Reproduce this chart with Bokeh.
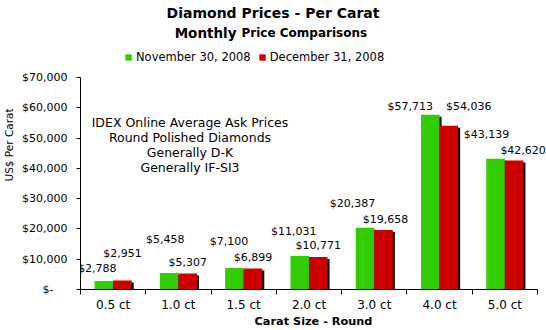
from bokeh.plotting import figure
from bokeh.models import (Range1d, FixedTicker, NumeralTickFormatter, ColumnDataSource,
                          LabelSet, Label, Legend, LegendItem)
from bokeh.core.properties import value
from bokeh.embed import file_html
from bokeh.resources import INLINE

# ---------------- data ----------------
categories = ["0.5 ct", "1.0 ct", "1.5 ct", "2.0 ct", "3.0 ct", "4.0 ct", "5.0 ct"]
nov_2008 = [2788, 5458, 7100, 11031, 20387, 57713, 43139]
dec_2008 = [2951, 5307, 6899, 10771, 19658, 54036, 42620]
series_names = ["November 30, 2008", "December 31, 2008"]
y_ticks = [0, 10000, 20000, 30000, 40000, 50000, 60000, 70000]
note_lines = ["IDEX Online Average Ask Prices", "Round Polished Diamonds",
              "Generally D-K", "Generally IF-SI3"]

# ---------------- layout / style ----------------
W, H = 546, 330
FL, FR, FT, FB = 80, 537, 77, 289   # visible plot box (axes extent) in canvas pixels
Y_MAX = 70000
X_MAX = len(categories)
GREEN, RED = "#33CC00", "#CC0000"
FONT = "DejaVu Sans"
BAR_W = 0.285
DODGE = 0.142

# label offsets in screen pixels (dx right, dy up), to avoid collisions as in the original
g_dx = [-6.5, -4, -5.5, -6, -12.5, -20, -9]
g_dy = [13, 33, 26, 24.5, 24, 8, 24]
r_dx = [0, 0, 0, 0, 2, 20, 9]
r_dy = [27, 11, 11, 11, 10, 19, 10]

PX_X = X_MAX / (FR - FL)
PX_Y = Y_MAX / (FB - FT)


def px_y(y_screen):
    return (FB - y_screen) * PX_Y


def px_x(x_screen):
    return (x_screen - FL) * PX_X


centers = [i + 0.5 for i in range(len(categories))]
src = ColumnDataSource(dict(
    xg=[c - DODGE for c in centers],
    xr=[c + DODGE for c in centers],
    xgs=[c - DODGE + 2 * PX_X for c in centers],
    xrs=[c + DODGE + 2 * PX_X for c in centers],
    nov=nov_2008, dec=dec_2008,
    novs=[v - 2 * PX_Y for v in nov_2008],
    decs=[v - 2 * PX_Y for v in dec_2008],
    nov_txt=["${:,}".format(v) for v in nov_2008],
    dec_txt=["${:,}".format(v) for v in dec_2008],
    g_dx=g_dx, g_dy=g_dy, r_dx=r_dx, r_dy=r_dy,
))

# the frame reaches the top and right canvas edges so that titles/legend are not clipped;
# axes are bounded to the real data extent
p = figure(width=W, height=H, title=None,
           x_range=Range1d(0, X_MAX + (W - FR) * PX_X),
           y_range=Range1d(0, Y_MAX + FT * PX_Y),
           output_backend="svg", toolbar_location=None,
           min_border_left=FL, min_border_right=0, min_border_top=0,
           min_border_bottom=H - FB)
p.outline_line_color = None
p.xgrid.visible = False
p.ygrid.visible = False
p.background_fill_color = "white"
p.border_fill_color = "white"

# shadows
p.vbar(x="xgs", top="novs", width=BAR_W, source=src, fill_color="black", line_color=None)
p.vbar(x="xrs", top="decs", width=BAR_W, source=src, fill_color="black", line_color=None)
# bars
rg = p.vbar(x="xg", top="nov", width=BAR_W, source=src, fill_color=GREEN, line_color=None)
rr = p.vbar(x="xr", top="dec", width=BAR_W, source=src, fill_color=RED, line_color=None)

# value labels
for xcol, ycol, tcol, dxc, dyc in [("xg", "nov", "nov_txt", "g_dx", "g_dy"),
                                   ("xr", "dec", "dec_txt", "r_dx", "r_dy")]:
    ls = LabelSet(x=xcol, y=ycol, text=tcol, x_offset=dxc, y_offset=dyc, source=src,
                  text_align="center", text_baseline="middle",
                  text_font=value(FONT), text_font_size="11px", text_color="black")
    p.add_layout(ls)

# axes
xa = p.xaxis[0]
xa.bounds = (0, X_MAX)
xa.ticker = FixedTicker(ticks=centers, minor_ticks=list(range(X_MAX + 1)))
xa.major_label_overrides = {c: cat for c, cat in zip(centers, categories)}
xa.major_tick_out = 0
xa.major_tick_in = 0
xa.major_tick_line_color = None
xa.minor_tick_out = 5
xa.minor_tick_in = 0
xa.minor_tick_line_color = "black"
xa.axis_line_color = "black"
xa.major_label_text_font = FONT
xa.major_label_text_font_size = "12px"
xa.major_label_text_color = "black"
xa.major_label_standoff = 3
xa.axis_label = "Carat Size - Round"
xa.axis_label_text_font = FONT
xa.axis_label_text_font_size = "11.3px"
xa.axis_label_text_font_style = "bold"
xa.axis_label_text_color = "black"
xa.axis_label_standoff = 0

ya = p.yaxis[0]
ya.bounds = (0, Y_MAX)
ya.ticker = FixedTicker(ticks=y_ticks, minor_ticks=[])
ya.formatter = NumeralTickFormatter(format="$0,0")
ya.major_label_overrides = {0: "$-\u00a0\u00a0\u00a0\u00a0"}
ya.major_tick_out = 4
ya.major_tick_in = 0
ya.major_tick_line_color = "black"
ya.axis_line_color = "black"
ya.major_label_text_font = FONT
ya.major_label_text_font_size = "11px"
ya.major_label_text_color = "black"
ya.major_label_standoff = 9
ya.axis_label = "US$ Per Carat"
ya.axis_label_text_font = FONT
ya.axis_label_text_font_size = "10.5px"
ya.axis_label_text_font_style = "normal"
ya.axis_label_text_color = "black"
ya.axis_label_standoff = 4

# titles
p.add_layout(Label(x=px_x(272.5), y=px_y(12.5), text="Diamond Prices - Per Carat",
                   text_align="center", text_baseline="alphabetic", text_font=FONT,
                   text_font_size="14px", text_font_style="bold", text_color="black"))
p.add_layout(Label(x=px_x(236), y=px_y(32), text="Monthly",
                   text_align="right", text_baseline="alphabetic", text_font=FONT,
                   text_font_size="13.5px", text_font_style="bold", text_color="black"))
p.add_layout(Label(x=px_x(241), y=px_y(32), text="Price Comparisons",
                   text_align="left", text_baseline="alphabetic", text_font=FONT,
                   text_font_size="12px", text_font_style="bold", text_color="black"))

# note block
p.add_layout(Label(x=px_x(189.5), y=px_y(114.5), text="\n".join(note_lines),
                   text_align="center", text_baseline="top", text_font=FONT,
                   text_font_size="12.5px", text_line_height=1.0, text_color="black"))

# legend
legend = Legend(items=[LegendItem(label=series_names[0], renderers=[rg]),
                       LegendItem(label=series_names[1], renderers=[rr])],
                orientation="horizontal", location=(124 - FL, 225),
                background_fill_alpha=0, border_line_alpha=0, padding=0, margin=0,
                spacing=7, glyph_width=8, glyph_height=8, label_standoff=4,
                label_height=14, label_text_font=FONT, label_text_font_size="11.5px",
                label_text_color="black", label_text_baseline="middle")
p.add_layout(legend)

open("out.html", "w").write(file_html(p, INLINE))
